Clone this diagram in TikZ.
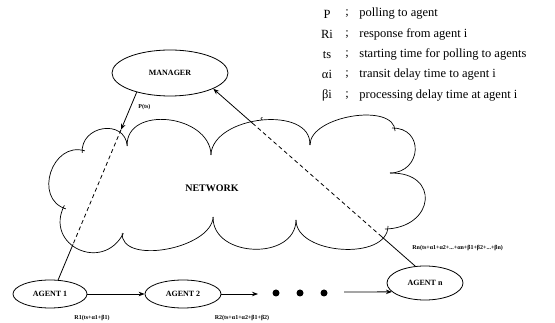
\documentclass[tikz,border=0pt]{standalone}
\usepackage{fontspec}
\setmainfont{Liberation Serif}
\usetikzlibrary{arrows.meta,calc,shapes.geometric}
\begin{document}
\begin{tikzpicture}[x=1pt,y=-1pt,
  line width=0.8pt,
  agentbox/.style={draw,ellipse,inner sep=0pt,font=\fontsize{8}{9}\selectfont\bfseries},
  lgsym/.style={anchor=center,font=\fontsize{12.5}{14}\selectfont},
  lgtxt/.style={anchor=west,font=\fontsize{12.5}{14}\selectfont,inner sep=0pt},
  tinylbl/.style={font=\fontsize{6}{7}\selectfont\bfseries,inner sep=0pt},
  arr/.style={-{Stealth[length=6pt,width=4.5pt]}},
  cloudline/.style={line width=0.7pt,shorten <=-3pt,shorten >=-3pt},
  dotmark/.style={fill,circle,inner sep=0pt,minimum size=7pt}
]
\useasboundingbox (0,0) rectangle (555,323);

% legend
\foreach \s/\t [count=\k] in {P/polling to agent, Ri/response from agent i, ts/starting time for polling to agents, αi/transit delay time to agent i, βi/processing delay time at agent i}{
  \node[lgsym] (ls\k) at (327,{14+20.3*(\k-1)}) {\s};
  \node[lgsym] (lc\k) at (347,{14+20.3*(\k-1)}) {;};
  \node[lgtxt] (lt\k) at (359,{14+20.3*(\k-1)}) {\t};
}

% cloud (separate puffs, slightly overlapping at the cusps)
\draw[cloudline] (63,208) .. controls (33,198.7) and (52,140.7) .. (82,150);
\draw[cloudline] (82,150) .. controls (80,125.3) and (125,118.3) .. (127,143);
\draw[cloudline] (127,143) .. controls (125.7,105) and (209.7,114) .. (211,152);
\draw[cloudline] (211,152) .. controls (213,115) and (312,105) .. (310,142);
\draw[cloudline] (310,142) .. controls (309.3,116) and (394.3,102) .. (395,128);
\draw[cloudline] (395,128) .. controls (424.3,127.3) and (422.3,172.3) .. (393,173);
\draw[cloudline] (393,173) .. controls (440.3,171.7) and (435.3,227.7) .. (388,229);
\draw[cloudline] (388,229) .. controls (388,261) and (296,255) .. (296,223);
\draw[cloudline] (296,223) .. controls (295.3,261) and (212.3,258) .. (213,220);
\draw[cloudline] (213,220) .. controls (211,249.3) and (120,265.3) .. (122,236);
\draw[cloudline] (122,236) .. controls (102.7,273.3) and (43.7,245.3) .. (63,208);
\node[font=\fontsize{10}{11}\selectfont\bfseries] (net) at (212,188) {NETWORK};

% nodes
\node[agentbox,minimum width=116pt,minimum height=46pt] (mgr) at (170,73) {MANAGER};
\node[agentbox,minimum width=74pt,minimum height=28pt] (a1) at (50,294) {AGENT 1};
\node[agentbox,minimum width=76pt,minimum height=28pt] (a2) at (183,294) {AGENT 2};
\node[agentbox,minimum width=76pt,minimum height=34pt] (an) at (425,283) {AGENT n};
\node[dotmark] (d1) at (276,293) {};
\node[dotmark] (d2) at (300,293) {};
\node[dotmark] (d3) at (324,293) {};

% manager -> agent 1
\coordinate (p1) at ($(mgr.210)!0.2!(a1.60)$);
\coordinate (p2) at ($(mgr.210)!0.81!(a1.60)$);
\draw[arr] (mgr.210) -- (p1);
\draw[dash pattern=on 4pt off 3pt] (p1) -- (p2);
\draw (p2) -- (a1.60);
\node[tinylbl,anchor=west] (lp) at (138,107) {P(ts)};

% agent n -> manager
\coordinate (q1) at ($(an.120)!0.166!(mgr.340)$);
\coordinate (q2) at ($(an.120)!0.795!(mgr.340)$);
\draw (an.120) -- (q1);
\draw[dash pattern=on 4pt off 3pt] (q1) -- (q2);
\draw[arr] (q2) -- (mgr.340);
\node[tinylbl] (lc) at (262,119) {c};
\node[tinylbl,anchor=west] (lrn) at (412,248) {Rn(ts+α1+α2+...+αn+β1+β2+...+βn)};

% agent chain
\coordinate (e1) at (258,294);
\coordinate (e2) at (344,292);
\draw[arr] (a1.east) -- (a2.west);
\draw[arr] (a2.east) -- (e1);
\draw[arr] (e2) -- (an.195);

\node[tinylbl] (lr1) at (92,318) {R1(ts+α1+β1)};
\node[tinylbl] (lr2) at (242,318) {R2(ts+α1+α2+β1+β2)};
\end{tikzpicture}
\end{document}
